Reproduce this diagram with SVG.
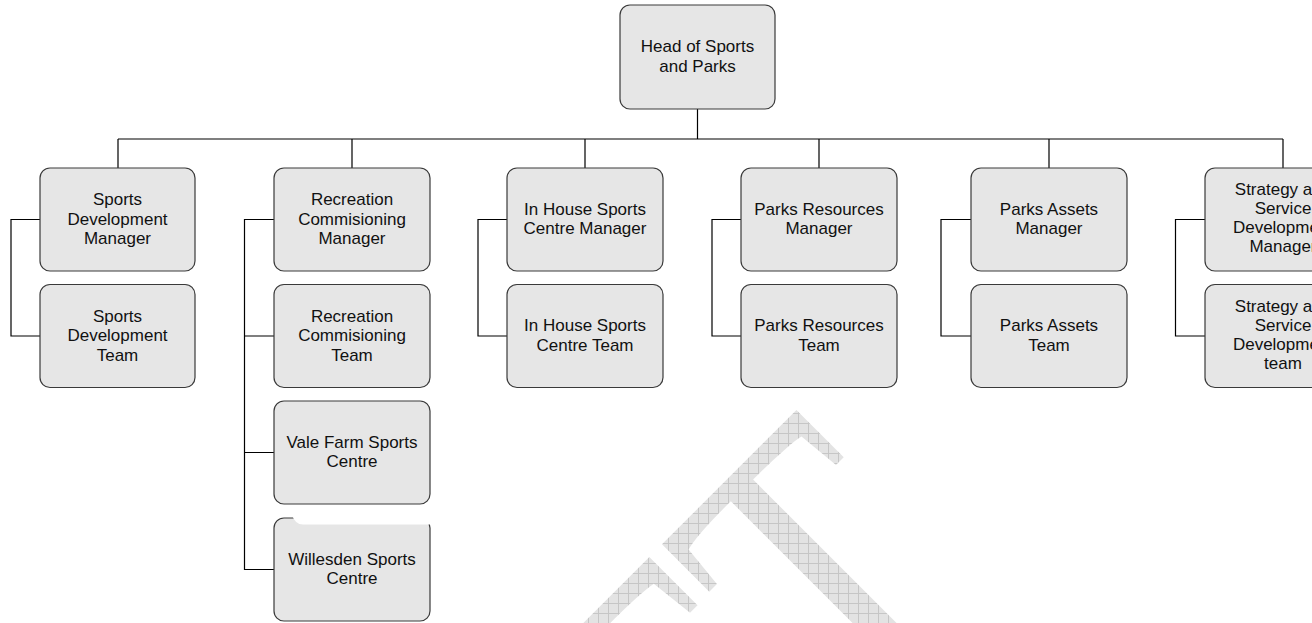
<svg xmlns="http://www.w3.org/2000/svg" width="1312" height="623" viewBox="0 0 1312 623">
<style>
.box{fill:#e6e6e6;stroke:#3a3a3a;stroke-width:1.2}
.lbl{font-family:"Liberation Sans",Arial,sans-serif;font-size:17px;fill:#111;text-anchor:middle}
.con{fill:none;stroke:#000;stroke-width:1.2}
</style>
<defs>
<pattern id="hatch" patternUnits="userSpaceOnUse" x="8" y="3" width="10" height="10">
<rect width="10" height="10" fill="#e3e3e3"/>
<path d="M0.5,0V10M0,0.5H10" stroke="#c6c6c6" stroke-width="1"/>
</pattern>
<mask id="wm">
<text transform="translate(1001.7,607.4) rotate(-45) scale(1.1,1.45)" x="0" y="0" text-anchor="end" font-family="Liberation Serif,serif" font-size="300" fill="#fff">DRAFT</text>
</mask>
</defs>
<rect width="1312" height="623" fill="#fff"/>
<g id="watermark">
<rect width="1312" height="623" fill="url(#hatch)" mask="url(#wm)"/>
</g>
<g id="connectors" class="con">
<path d="M697.5,109V139M118,139H1283M118,139V168M352,139V168M585,139V168M819,139V168M1049,139V168M1283,139V168"/>
<path d="M40,219.5H11V336H40"/>
<path d="M274,219.5H244.5V569.5H274M244.5,336H274M244.5,452.5H274"/>
<path d="M507,219.5H478V336H507"/>
<path d="M741,219.5H712V336H741"/>
<path d="M971,219.5H941V336H971"/>
<path d="M1205,219.5H1175.5V336H1205"/>
</g>
<g id="n-head"><rect class="box" x="620" y="5" width="155" height="104" rx="10"/><text class="lbl" x="697.5" y="52">Head of Sports<tspan x="697.5" dy="20">and Parks</tspan></text></g>
<g id="n-sdm"><rect class="box" x="40" y="168" width="155" height="103" rx="10"/><text class="lbl" x="117.5" y="205">Sports<tspan x="117.5" dy="19.5">Development</tspan><tspan x="117.5" dy="19.5">Manager</tspan></text></g>
<g id="n-sdt"><rect class="box" x="40" y="284.5" width="155" height="103" rx="10"/><text class="lbl" x="117.5" y="321.5">Sports<tspan x="117.5" dy="19.5">Development</tspan><tspan x="117.5" dy="19.5">Team</tspan></text></g>
<g id="n-rcm"><rect class="box" x="274" y="168" width="156" height="103" rx="10"/><text class="lbl" x="352" y="205">Recreation<tspan x="352" dy="19.5">Commisioning</tspan><tspan x="352" dy="19.5">Manager</tspan></text></g>
<g id="n-rct"><rect class="box" x="274" y="284.5" width="156" height="103" rx="10"/><text class="lbl" x="352" y="321.5">Recreation<tspan x="352" dy="19.5">Commisioning</tspan><tspan x="352" dy="19.5">Team</tspan></text></g>
<g id="n-vale"><rect class="box" x="274" y="401" width="156" height="103" rx="10"/><text class="lbl" x="352" y="447.5">Vale Farm Sports<tspan x="352" dy="19.5">Centre</tspan></text></g>
<g id="n-will"><rect class="box" x="274" y="518" width="156" height="103" rx="10"/><text class="lbl" x="352" y="564.5">Willesden Sports<tspan x="352" dy="19.5">Centre</tspan></text>
<path d="M292,515 Q295,524.5 303,524.5 L433,524.5 L433,514 Z" fill="#fff"/></g>
<g id="n-ihm"><rect class="box" x="507" y="168" width="156" height="103" rx="10"/><text class="lbl" x="585" y="214.5">In House Sports<tspan x="585" dy="19.5">Centre Manager</tspan></text></g>
<g id="n-iht"><rect class="box" x="507" y="284.5" width="156" height="103" rx="10"/><text class="lbl" x="585" y="331">In House Sports<tspan x="585" dy="19.5">Centre Team</tspan></text></g>
<g id="n-prm"><rect class="box" x="741" y="168" width="156" height="103" rx="10"/><text class="lbl" x="819" y="214.5">Parks Resources<tspan x="819" dy="19.5">Manager</tspan></text></g>
<g id="n-prt"><rect class="box" x="741" y="284.5" width="156" height="103" rx="10"/><text class="lbl" x="819" y="331">Parks Resources<tspan x="819" dy="19.5">Team</tspan></text></g>
<g id="n-pam"><rect class="box" x="971" y="168" width="156" height="103" rx="10"/><text class="lbl" x="1049" y="214.5">Parks Assets<tspan x="1049" dy="19.5">Manager</tspan></text></g>
<g id="n-pat"><rect class="box" x="971" y="284.5" width="156" height="103" rx="10"/><text class="lbl" x="1049" y="331">Parks Assets<tspan x="1049" dy="19.5">Team</tspan></text></g>
<g id="n-ssm"><rect class="box" x="1205" y="168" width="156" height="103" rx="10"/><text class="lbl" x="1283" y="194.5">Strategy and<tspan x="1283" dy="19.3">Service</tspan><tspan x="1283" dy="19.3">Development</tspan><tspan x="1283" dy="19.3">Manager</tspan></text></g>
<g id="n-sst"><rect class="box" x="1205" y="284.5" width="156" height="103" rx="10"/><text class="lbl" x="1283" y="311.5">Strategy and<tspan x="1283" dy="19.3">Service</tspan><tspan x="1283" dy="19.3">Development</tspan><tspan x="1283" dy="19.3">team</tspan></text></g>
</svg>
